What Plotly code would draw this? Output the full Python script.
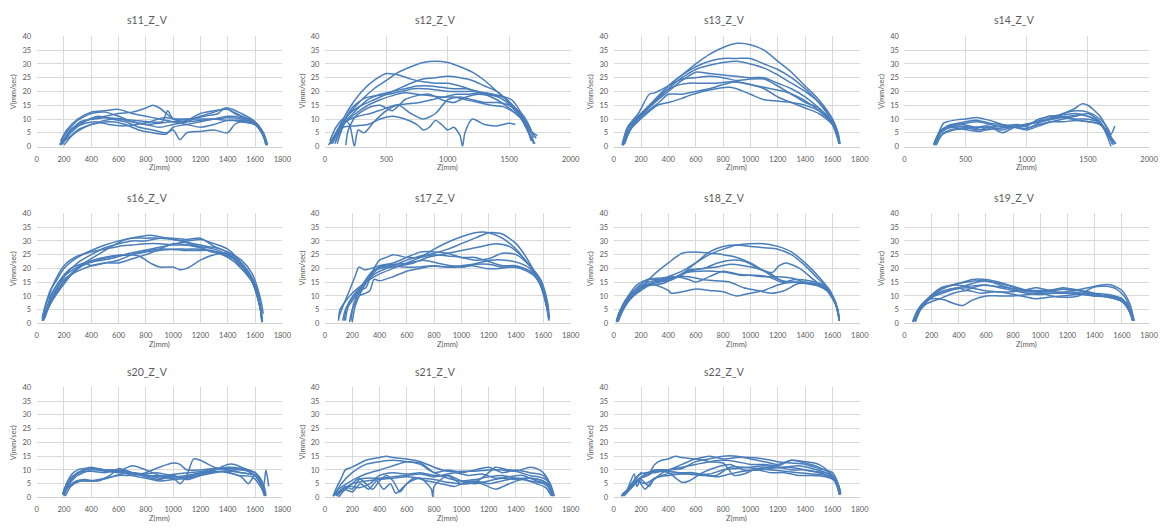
import plotly.graph_objects as go

# ---------------- data: each curve is a list of (Z mm, V mm/sec) ----------------
S11 = [
    [(170,0.5),(200,4),(250,7),(300,9.5),(400,12),(500,12.5),(600,11),(700,9),(800,8),(900,7),(1000,8),(1100,9),(1200,11),(1300,12.5),(1400,14),(1500,12),(1600,9),(1660,4),(1680,0.5)],
    [(180,1),(230,5),(300,8),(400,10),(500,11),(600,12),(700,12.5),(800,14),(850,15),(900,14),(950,12),(1000,10),(1100,9),(1200,9.5),(1300,10),(1400,10.5),(1500,10),(1600,8),(1650,5),(1680,1)],
    [(190,1),(250,5),(350,9),(450,11),(550,10),(650,9),(750,7),(850,6),(950,5),(1000,6),(1050,2.5),(1100,5),(1200,5.5),(1300,6),(1400,5),(1450,8),(1500,9),(1600,8),(1660,4),(1690,0.5)],
    [(175,2),(220,6),(300,10),(400,12.5),(500,13),(600,13.5),(700,12),(800,11),(900,10),(1000,9),(1100,9.5),(1200,12),(1300,13),(1400,13.5),(1500,11),(1600,9),(1650,6),(1680,1)],
    [(200,0.5),(260,4),(350,7),(450,8.5),(550,9),(650,8),(750,6),(850,5),(950,4.5),(1000,7),(1100,8),(1200,9),(1300,10),(1400,11),(1500,10.5),(1600,8),(1660,5),(1690,1)],
    [(180,0.5),(240,5),(320,9),(420,10),(520,10.5),(620,10),(720,9.5),(820,9),(920,9),(960,13),(1000,10),(1100,10),(1200,10),(1300,10),(1400,9.5),(1500,9.5),(1600,8.5),(1660,5),(1690,0.5)],
    [(185,1.5),(250,6),(330,8),(430,9),(530,8),(630,7.5),(730,8),(830,9),(930,10.5),(1030,10),(1130,10),(1230,11),(1330,12),(1380,14),(1450,12),(1550,10),(1630,7),(1680,2)],
    [(170,1),(230,3),(300,6),(400,8),(500,9.5),(600,10),(700,9),(800,8),(900,8.5),(1000,9),(1100,8),(1200,7),(1300,8),(1400,9.5),(1500,9),(1600,8),(1660,5),(1680,0.5)],
]
S12 = [
    [(60,2),(100,5),(200,12),(300,17),(400,21),(500,24),(600,27),(700,29),(800,30.5),(900,31),(1000,30.5),(1100,29),(1200,27),(1300,24),(1400,20),(1500,16),(1600,11),(1650,6),(1680,2)],
    [(40,1),(100,6),(200,14),(300,20),(400,24),(500,26.5),(600,26),(700,24.5),(800,23.5),(900,23),(1000,23),(1100,22),(1200,20.5),(1300,19),(1400,17),(1500,14),(1600,10),(1660,5),(1700,2)],
    [(50,1),(120,7),(200,12),(300,15),(400,17),(500,19),(600,21),(700,23),(800,24.5),(900,25),(1000,25.5),(1100,25),(1200,24),(1300,22),(1400,20),(1500,16),(1600,10),(1670,4),(1710,1)],
    [(80,1),(150,8),(250,13),(350,17),(450,19),(550,20),(650,21),(750,22),(850,22),(950,21.5),(1050,21),(1150,21),(1250,20),(1350,19),(1450,17),(1550,13),(1620,9),(1680,3)],
    [(90,2),(150,8),(250,12),(350,15),(450,17),(550,18.5),(650,19.5),(750,19),(850,18.5),(950,18),(1050,18),(1150,17),(1250,16),(1350,15),(1450,14.5),(1550,12),(1640,8),(1700,3)],
    [(170,0.5),(190,6),(250,11),(350,14),(450,15),(550,13),(650,17),(750,18.5),(850,19),(950,17),(1050,16),(1150,18),(1250,19),(1350,18.5),(1450,18),(1550,14),(1620,10),(1690,5),(1720,3)],
    [(30,0.5),(80,4),(150,7),(250,7.5),(350,8),(450,10),(550,11),(650,10),(750,8),(800,6),(850,7),(900,9.5),(950,8),(1000,6),(1050,7),(1100,4),(1120,0),(1140,5),(1200,10),(1300,8),(1400,7.5),(1500,8.5),(1550,8)],
    [(40,2),(90,7),(150,10),(200,8),(240,0),(270,6),(320,5),(400,9),(500,13),(600,15),(700,12),(800,10),(900,12),(1000,17),(1100,18),(1200,17),(1300,16),(1400,16),(1500,15),(1600,11),(1660,5),(1700,1)],
    [(60,1),(130,7),(220,14),(320,17.5),(420,18.5),(520,19),(620,20),(720,21),(820,21),(920,20.5),(1020,20),(1120,20),(1220,20),(1320,19),(1420,18.5),(1520,17),(1600,12),(1660,6),(1730,4)],
    [(100,1),(170,9),(270,11),(370,12),(470,13.5),(570,15),(670,15.5),(770,16),(870,17),(970,18),(1070,19),(1170,19),(1270,19.5),(1370,19),(1470,17.5),(1550,14),(1620,11),(1680,6)],
]
S13 = [
    [(70,0.5),(100,6),(200,12),(300,17),(400,22),(500,26),(600,30),(700,33.5),(800,36),(900,37.5),(1000,37),(1100,35),(1200,31),(1300,27),(1400,22),(1500,17),(1600,10),(1640,5),(1650,1)],
    [(65,0.5),(100,5),(200,11),(300,17),(400,22),(500,26),(600,29),(700,31),(800,32),(900,32),(1000,32),(1100,30),(1200,28),(1300,25),(1400,21),(1500,16),(1600,9),(1640,5),(1655,1)],
    [(75,1),(110,7),(200,12),(300,16),(400,21),(500,25),(600,28),(700,29.5),(800,30.5),(900,31),(1000,30),(1100,28.5),(1200,26),(1300,23),(1400,20),(1500,16),(1600,10),(1650,2)],
    [(70,0.5),(120,6),(200,11),(300,16),(400,20),(500,24),(600,27),(700,26.5),(800,26),(900,25.5),(1000,25),(1100,25),(1200,23),(1300,21),(1400,18),(1500,14),(1600,9),(1650,1)],
    [(60,0.5),(100,7),(180,12),(260,19),(300,19.5),(400,22),(500,24.5),(600,25),(700,25.5),(800,25),(900,24),(1000,24.5),(1100,24.5),(1200,22),(1300,19),(1400,16),(1500,14),(1600,8),(1650,1)],
    [(80,1),(130,7),(230,12),(330,16),(400,19),(500,19),(600,20),(700,21),(800,22.5),(900,23.5),(1000,22.5),(1100,21),(1200,18),(1300,16),(1400,14),(1500,12),(1600,8),(1650,2)],
    [(70,0.5),(120,6),(220,11),(320,15),(400,16),(500,17.5),(550,18.5),(650,20),(750,21),(850,21.5),(900,21),(1000,19),(1100,17),(1200,16.5),(1300,16),(1400,15),(1500,13),(1600,8),(1650,1)],
    [(75,1),(140,8),(250,14),(350,19),(450,22),(550,23),(650,23),(750,23),(850,23.5),(950,23),(1050,22),(1150,21),(1250,20),(1350,18),(1450,15),(1550,11),(1620,7),(1655,1)],
]
S14 = [
    [(240,0.5),(260,3),(300,6),(350,7),(400,8),(500,9),(600,9.5),(700,8.5),(800,8),(900,7.5),(1000,8),(1100,9),(1200,10.5),(1300,12),(1400,14),(1450,15.5),(1500,15),(1600,11),(1650,7),(1700,1)],
    [(245,1),(280,5),(320,8.5),(350,9),(400,9.5),(500,10),(600,10.5),(700,9.5),(800,8),(900,7),(1000,7.5),(1100,10),(1200,11),(1300,11.5),(1400,12),(1500,11),(1600,9),(1680,4),(1720,7.5)],
    [(250,0.5),(300,4),(400,6),(500,6.5),(600,7),(700,7),(800,7.5),(900,7),(1000,6),(1100,7.5),(1200,9),(1300,10),(1400,11),(1500,12),(1600,9),(1690,0)],
    [(240,1),(290,5),(360,7),(450,7.5),(550,7),(650,6),(750,6.5),(850,7),(950,7.5),(1050,8.5),(1150,9.5),(1250,10.5),(1350,11),(1450,11.5),(1550,10),(1650,6),(1720,1)],
    [(250,2),(300,6),(380,8),(480,8),(580,7),(680,7.5),(780,6),(880,7),(980,8),(1080,9),(1180,11),(1280,11),(1380,10),(1480,10),(1580,9),(1660,5),(1730,1)],
    [(245,0.5),(300,5),(400,7.5),(500,8.5),(600,9),(700,8),(800,7),(900,7),(1000,6.5),(1100,8),(1200,9),(1300,9),(1400,9.5),(1500,9),(1600,8),(1680,3),(1710,0.5)],
    [(255,1),(310,6),(400,7),(500,7),(600,6),(700,7),(800,5),(900,7),(1000,8),(1100,9),(1200,10),(1300,12),(1400,13),(1500,12.5),(1600,10),(1670,6),(1700,1)],
    [(260,0.5),(320,5),(420,6.5),(520,6),(620,5.5),(720,7),(820,7.5),(920,8),(1020,7),(1120,9),(1220,10),(1320,10.5),(1420,9.5),(1520,9),(1620,7.5),(1690,2)],
]
S16 = [
    [(40,2),(60,6),(100,12),(150,16),(200,20),(300,24),(400,26.5),(500,28.5),(600,30),(700,31),(800,31),(900,31),(1000,30.5),(1100,30),(1200,30.5),(1300,29),(1400,27),(1500,22),(1580,16),(1630,8),(1650,1)],
    [(45,1),(70,5),(120,10),(200,17),(300,22),(400,25),(500,27.5),(600,29),(700,30),(800,30),(900,31),(1000,31),(1100,30.5),(1200,31),(1300,28),(1400,26),(1500,23),(1580,18),(1640,9),(1660,3.5)],
    [(50,1),(80,5),(150,12),(250,18),(350,22),(450,25),(550,28),(650,30.5),(750,31.5),(850,32),(950,31),(1050,30),(1150,29),(1250,28),(1350,27),(1450,24),(1550,19),(1620,12),(1650,1)],
    [(55,2),(90,8),(160,15),(250,20),(350,22),(450,23.5),(550,24.5),(650,25),(750,24.5),(800,23),(850,21.5),(900,20.5),(1000,20.5),(1050,19.5),(1100,20),(1200,23),(1300,25),(1400,25.5),(1500,20),(1580,15),(1640,5),(1650,0.5)],
    [(50,1.5),(100,8),(150,13),(200,16),(300,19),(400,21),(500,22),(600,23),(700,25),(800,26),(900,26.5),(1000,27),(1100,27),(1200,27),(1300,26),(1400,24),(1500,20),(1580,15),(1640,5),(1650,0.5)],
    [(60,2),(90,6),(180,13),(280,19),(380,22),(480,23),(580,24),(680,25.5),(780,26.5),(880,27.5),(980,28.5),(1080,29.5),(1180,28),(1280,26),(1380,25),(1480,22),(1560,17),(1620,10),(1650,2)],
    [(45,3),(70,4),(100,10),(180,16),(280,20),(380,22),(480,23.5),(580,24.5),(680,25),(780,26),(880,27),(980,27),(1080,26.5),(1180,26.5),(1280,26.5),(1380,25),(1480,22),(1560,17),(1620,10),(1650,3)],
    [(40,1),(70,7),(120,14),(200,21),(300,24.5),(400,26),(500,27),(600,28),(700,28.5),(800,29),(900,29),(1000,28.5),(1100,28.5),(1200,28),(1300,27),(1400,25),(1500,21),(1580,16),(1640,6),(1655,0.5)],
    [(50,2),(80,6),(130,10),(200,15),(300,20),(350,22),(400,21),(500,22),(600,22),(700,23.5),(800,25),(900,27),(1000,29),(1100,28.5),(1200,27.5),(1300,26),(1400,25),(1500,21),(1580,16),(1640,5)],
]
S17 = [
    [(100,1),(110,5),(150,8),(200,11),(300,15),(400,18),(500,20),(600,22),(700,24),(800,27),(900,29.5),(1000,31.5),(1100,33),(1200,33),(1300,31),(1400,27),(1500,21),(1560,17),(1600,12),(1630,5),(1640,2)],
    [(130,1),(150,5),(200,9),(250,12),(300,16),(350,19),(400,20),(500,21),(600,23),(700,24.5),(800,25.5),(900,27),(1000,29),(1100,31),(1200,33),(1250,33),(1300,32.5),(1400,29),(1500,22),(1580,14),(1630,5),(1645,1.5)],
    [(100,2),(130,6),(180,12),(220,17),(250,20.5),(290,19.5),(340,20),(400,21),(500,22),(600,24),(700,26),(800,26),(900,25.5),(1000,24),(1100,24),(1200,22.5),(1300,21),(1400,21),(1500,19),(1580,15),(1630,7),(1640,2)],
    [(180,0.5),(200,5),(250,10),(300,11),(330,12),(360,16),(400,15.5),(500,17),(600,19),(700,20),(800,21),(900,20.5),(1000,21),(1100,21.5),(1200,21.5),(1300,20.5),(1400,20.5),(1500,19),(1580,14),(1630,6),(1640,1)],
    [(190,1),(210,7),(260,12),(300,13),(350,19),(400,23),(450,24),(500,25),(600,24),(700,24),(800,25),(900,24.5),(1000,24),(1100,23),(1200,23.5),(1300,25.5),(1400,25),(1500,21),(1580,16),(1630,8),(1645,2)],
    [(140,1),(160,6),(220,11),(280,14),(320,17),(380,20),(480,21),(580,20.5),(680,20.5),(780,21),(880,20.5),(980,20.5),(1080,21),(1180,20),(1280,20),(1380,20.5),(1480,19),(1560,16),(1620,9),(1640,2)],
    [(200,0.5),(220,6),(260,11),(320,16),(380,18.5),(450,20),(550,21),(650,22),(750,24),(850,25),(950,26),(1050,27),(1150,28),(1250,29),(1350,28),(1450,24),(1530,19),(1600,11),(1640,2)],
    [(150,1),(170,6),(230,10),(290,14),(350,18),(420,21),(520,21.5),(620,22),(720,23),(820,22),(920,21),(1020,20.5),(1120,22),(1220,23),(1320,23),(1420,22),(1500,20),(1570,15),(1620,8),(1640,2)],
]
S18 = [
    [(20,0.5),(40,4),(100,8),(200,12),(300,15),(400,17),(500,19),(600,22),(700,25),(800,27),(900,28.5),(1000,29),(1100,29),(1200,28),(1300,26),(1400,22),(1500,17),(1580,12),(1630,6),(1650,1)],
    [(25,1),(50,4),(100,7.5),(200,13),(300,18),(400,22),(500,25.5),(600,26),(700,25.5),(800,25),(900,24),(1000,22),(1100,19),(1200,16),(1300,15),(1400,15),(1500,14),(1580,11),(1630,6),(1650,1)],
    [(30,0.5),(60,4),(120,9),(200,13),(300,15),(400,16),(500,18),(600,22),(700,26),(800,28),(900,28.5),(1000,28),(1100,27.5),(1200,27),(1300,25),(1400,21),(1500,16),(1580,12),(1640,5),(1650,1)],
    [(20,1),(50,5),(100,9),(200,13),(300,14),(400,12),(420,11),(500,11.5),(600,12.5),(700,12),(800,11.5),(900,10),(1000,11),(1100,12),(1200,14),(1300,15),(1400,14.5),(1500,13.5),(1580,11),(1640,5)],
    [(30,1),(70,6),(150,12),(250,15),(350,16),(450,16.5),(550,19),(650,20),(750,20.5),(850,21.5),(950,21),(1050,20),(1150,18),(1250,15),(1350,15),(1450,14.5),(1550,13),(1620,8),(1650,1)],
    [(25,0.5),(70,7),(150,12),(250,16),(350,16),(450,17),(550,17),(650,16),(750,15.5),(850,15),(950,13),(1050,12),(1150,11),(1250,12),(1350,14.5),(1450,14.5),(1550,13),(1620,8),(1650,1.5)],
    [(35,1),(80,6),(160,11),(260,14),(360,14.5),(460,17),(560,19.5),(660,20),(760,22),(860,23),(960,22.5),(1060,20),(1160,18.5),(1210,21),(1260,22),(1360,20),(1460,16),(1560,12),(1630,6),(1650,1)],
    [(20,1),(60,5),(130,10),(230,14),(330,15),(430,16),(530,18.5),(630,19),(730,19),(830,18.5),(930,17.5),(1030,17.5),(1130,17),(1230,15),(1330,16),(1430,15.5),(1530,14),(1610,9),(1650,2)],
    [(30,2),(80,8),(170,14),(250,16),(350,16.5),(450,17),(550,16),(600,15),(700,17),(800,19),(900,18),(1000,17.5),(1100,17),(1200,17),(1300,16.5),(1400,15),(1500,14),(1600,10),(1650,2)],
]
S19 = [
    [(60,0.5),(80,3),(120,6),(200,10),(300,13),(400,14.5),(500,16),(600,16),(700,15),(800,13.5),(900,12),(1000,11.5),(1100,11.5),(1200,11),(1300,10.5),(1400,10),(1500,9.5),(1600,8),(1650,5),(1680,1)],
    [(70,1),(100,5),(150,8),(200,9),(250,9),(300,8.5),(350,7.5),(430,6.5),(500,8.5),(600,10),(700,10),(800,10),(900,10.5),(1000,11),(1100,11),(1200,11),(1300,11),(1400,10.5),(1500,9.5),(1600,8),(1660,4),(1680,1)],
    [(65,0.5),(90,4),(150,8),(250,12),(350,14),(450,15),(550,15.5),(650,15),(750,14),(850,12.5),(950,12),(1050,12),(1150,12.5),(1250,12),(1350,13),(1450,14),(1520,14),(1600,12),(1660,7),(1690,1)],
    [(75,1),(110,5),(180,9),(280,11),(380,12.5),(480,13),(580,12),(680,11.5),(780,11.5),(880,12),(980,11.5),(1080,10),(1180,9.5),(1280,10),(1380,13),(1480,13.5),(1560,12.5),(1630,9),(1680,2)],
    [(80,0.5),(120,5),(200,9.5),(300,12),(400,13),(500,14.5),(600,15.5),(700,14),(800,12.5),(900,11.5),(1000,11.5),(1100,12),(1200,12.5),(1300,12),(1400,11),(1500,10.5),(1600,9),(1660,5),(1690,1)],
    [(70,1),(100,4),(160,7),(260,9),(360,11),(460,12),(560,11),(660,11.5),(760,11),(860,10),(960,9),(1060,9.5),(1160,10),(1260,10.5),(1360,11),(1460,10),(1560,9.5),(1640,7),(1680,1)],
    [(65,1),(100,5),(170,9),(270,13),(370,14),(470,13.5),(570,14),(670,13.5),(770,13),(870,12),(970,13),(1070,12),(1170,13),(1270,12),(1370,11),(1470,10),(1570,9),(1640,6),(1680,1)],
    [(80,1),(120,6),(200,10),(300,12),(400,13),(450,12),(500,13),(600,14),(700,13),(800,12),(900,11),(1000,10.5),(1100,11),(1200,11.5),(1300,11),(1400,10),(1500,10),(1600,9),(1660,4),(1690,1)],
]
S20 = [
    [(190,1),(210,4),(250,8),(300,10),(350,10.5),(400,11),(500,10),(600,9.5),(700,11.5),(800,10),(900,8),(1000,7.5),(1100,8),(1200,9),(1300,10),(1400,12),(1450,12),(1500,11),(1600,9),(1650,6),(1670,1)],
    [(200,0.5),(220,3),(270,5),(320,6),(400,6),(500,7),(600,8),(700,8),(800,9),(900,11),(1000,12.5),(1050,12),(1100,10),(1200,10),(1300,10.5),(1400,10),(1500,9),(1600,8),(1660,4),(1680,10),(1700,4)],
    [(195,2),(230,6),(300,9),(400,9.5),(500,9),(600,10),(700,9),(800,8),(900,7),(1000,7),(1050,5),(1100,8),(1150,14),(1200,13.5),(1300,11),(1400,10),(1500,10),(1600,9),(1650,5),(1670,0.5)],
    [(200,1),(240,5),(300,8),(400,10),(500,9.5),(600,9),(700,8.5),(800,8),(900,7.5),(1000,7),(1100,7.5),(1200,8.5),(1300,10),(1400,11),(1500,10.5),(1600,9),(1660,5),(1680,1)],
    [(190,1.5),(230,4),(290,6),(350,6.5),(450,6),(550,8.5),(600,10.5),(700,9),(800,7.5),(900,6.5),(1000,8),(1100,6.5),(1200,8),(1300,9.5),(1400,9),(1500,7.5),(1550,5),(1600,8),(1650,4),(1670,1)],
    [(200,1),(240,5),(300,9),(400,10.5),(500,10),(600,9.5),(700,8),(800,7),(900,6),(1000,6.5),(1100,7),(1200,8),(1300,9),(1400,9.5),(1500,9),(1600,8),(1650,5),(1680,0.5)],
    [(210,0.5),(250,4),(320,6),(420,6),(520,7),(620,8.5),(720,9),(820,8),(920,8),(1020,8.5),(1120,9),(1220,9.5),(1320,10.5),(1420,10.5),(1520,10),(1600,8),(1660,3)],
    [(195,1),(230,5),(280,8),(380,10.5),(480,10),(580,10),(680,9),(780,8.5),(880,9),(980,8),(1080,7),(1180,8.5),(1280,9),(1380,9.5),(1480,8),(1580,7.5),(1650,3),(1670,0.5)],
]
S21 = [
    [(60,0.5),(80,3),(120,7),(150,10),(200,11),(300,13.5),(400,14.5),(450,15),(500,14.5),(600,14),(700,13),(800,11),(900,9.5),(1000,9.5),(1100,9.5),(1200,10),(1300,10),(1400,9.5),(1500,11),(1550,10.5),(1600,9),(1650,5),(1670,0.5)],
    [(70,1),(120,5),(200,9),(300,12),(400,13),(500,13.5),(600,13),(700,12.5),(800,9),(900,7),(1000,6),(1100,6.5),(1200,7.5),(1300,8),(1400,7),(1500,7),(1600,6),(1660,3),(1680,0.5)],
    [(80,0.5),(110,2),(150,3),(200,5),(250,7),(300,5),(350,3),(400,6),(450,8),(500,6),(550,2),(600,5),(700,7),(780,3),(790,0),(800,4),(900,8),(1000,6),(1100,5),(1200,6),(1300,7),(1400,6.5),(1500,7),(1600,6),(1650,4),(1670,1)],
    [(60,0.5),(100,2),(150,4),(200,3),(250,6.5),(300,7),(400,7),(500,7.5),(600,8),(700,8.5),(800,7.5),(900,8),(1000,5),(1100,5.5),(1200,9),(1250,11),(1300,10.5),(1400,9.5),(1500,8),(1600,7),(1650,5),(1680,0.5)],
    [(90,0.5),(140,3),(200,2),(260,5),(320,3),(380,6),(430,3),(480,5),(520,1.5),(580,4),(650,7),(750,6),(850,5),(950,4),(1050,6),(1150,5),(1250,3),(1350,5),(1450,6.5),(1550,5),(1620,3.5),(1660,0.5)],
    [(70,1),(130,3),(200,5),(300,6),(400,6.5),(500,7),(600,7.5),(700,7),(800,6.5),(900,5.5),(1000,5),(1100,6),(1200,5),(1300,6),(1400,7),(1500,6),(1600,5),(1650,3),(1670,0.5)],
    [(100,0),(130,2),(180,4),(250,3.5),(330,5),(400,8),(500,9),(600,8.5),(700,9),(800,8),(850,8),(950,9),(1050,8),(1150,8.5),(1250,7),(1350,7.5),(1450,8),(1550,6),(1620,5),(1660,1)],
    [(60,0.5),(100,3),(160,5),(230,7),(300,8.5),(400,10),(500,11.5),(600,13),(700,12),(800,9),(900,10),(1000,9),(1100,10),(1200,11),(1300,9),(1400,10),(1500,9),(1600,8),(1650,4),(1670,0.5)],
]
S22 = [
    [(60,0.5),(80,2),(120,3),(160,5),(200,7),(250,8),(300,12),(350,13.5),(400,14),(450,15),(500,14.5),(600,14),(700,15),(800,14),(900,14.5),(1000,14.5),(1100,14),(1200,13),(1300,12.5),(1400,12),(1500,10.5),(1600,9),(1640,5),(1655,1)],
    [(70,1),(100,3),(150,8.5),(170,4),(200,7),(250,9),(300,10),(400,10),(500,10.5),(600,13),(700,14),(800,15),(900,15),(1000,14),(1100,13),(1200,12),(1300,13.5),(1400,12.5),(1500,11),(1600,8),(1650,3)],
    [(55,0.5),(90,2),(130,4),(180,6),(230,3),(280,6),(350,8),(450,9),(550,8.5),(650,8),(750,8),(850,11),(950,11),(1050,10.5),(1150,10),(1250,9.5),(1350,9),(1450,8.5),(1550,8),(1620,6),(1650,1)],
    [(60,1),(100,2.5),(140,5),(200,9),(250,8),(300,9.5),(400,9),(500,5.5),(550,6),(650,9),(750,11),(850,12),(950,10),(1050,10),(1150,10.5),(1250,11),(1350,10.5),(1450,9.5),(1550,9),(1620,7),(1660,2)],
    [(65,1),(110,3),(160,6),(220,8),(300,9.5),(400,10),(500,12),(600,14),(700,13),(800,12.5),(880,8),(950,8.5),(1050,10.5),(1150,11),(1250,11),(1350,11.5),(1450,10.5),(1550,9),(1630,6),(1660,1.5)],
    [(70,0.5),(100,2),(150,5),(200,6.5),(260,4),(300,7),(400,8),(500,8.5),(600,8.5),(700,8.5),(800,10),(900,10.5),(1000,11),(1100,11.5),(1200,11),(1300,10),(1400,10),(1500,9),(1600,7),(1650,2)],
    [(60,1),(90,2),(130,5),(180,8),(230,9),(300,9),(400,10),(500,11),(600,12),(700,13),(800,13.5),(900,13),(1000,12),(1100,12),(1200,11.5),(1300,13.5),(1400,13),(1500,12),(1580,9),(1640,5),(1660,1)],
    [(75,0.5),(120,3),(170,6),(230,5),(300,7),(380,9.5),(480,9),(580,9),(680,8),(760,7.5),(850,8.5),(950,9.5),(1050,10),(1150,9),(1250,9),(1350,8),(1450,8),(1550,7.5),(1620,6),(1650,1)],
]

PANEL_TITLES = ["s11_Z_V", "s12_Z_V", "s13_Z_V", "s14_Z_V",
                "s16_Z_V", "s17_Z_V", "s18_Z_V", "s19_Z_V",
                "s20_Z_V", "s21_Z_V", "s22_Z_V"]
PANEL_DATA = [S11, S12, S13, S14, S16, S17, S18, S19, S20, S21, S22]
X_MAX = [1800, 2000, 1800, 2000, 1800, 1800, 1800, 1800, 1800, 1800, 1800]
X_DTICK = [200, 500, 200, 500, 200, 200, 200, 200, 200, 200, 200]
Y_TICKS = [0, 5, 10, 15, 20, 25, 30, 35, 40]
X_TITLE = "Z(mm)"
Y_TITLE = "V(mm/sec)"

# ---------------- layout geometry (pixels) ----------------
W, H = 1165, 528
COLS = [(35, 283), (326, 574), (617.5, 866), (911, 1158)]
ROWS = [(33, 145), (213, 325), (390, 502)]
TITLE_Y = [16, 197, 374]

LINE_COLOR = "#4a7ebb"
GRID = "#d9d9d9"
TXT = "#595959"
FONT = "Lato, Open Sans, sans-serif"

fig = go.Figure()
annotations = []
for i, (title, data) in enumerate(zip(PANEL_TITLES, PANEL_DATA)):
    r, c = divmod(i, 4)
    n = i + 1
    xa = "x" if n == 1 else f"x{n}"
    ya = "y" if n == 1 else f"y{n}"
    for curve in data:
        fig.add_trace(go.Scatter(
            x=[p[0] for p in curve], y=[p[1] for p in curve],
            mode="lines", line=dict(color=LINE_COLOR, width=1.5, shape="spline", smoothing=0.7),
            xaxis=xa, yaxis=ya, showlegend=False, hoverinfo="skip"))
    x0, x1 = COLS[c]
    y0, y1 = ROWS[r]
    xdom = [x0 / W, x1 / W]
    ydom = [1 - y1 / H, 1 - y0 / H]
    fig.layout[("xaxis" if n == 1 else f"xaxis{n}")] = dict(
        domain=xdom, anchor=ya, range=[0, X_MAX[i]], dtick=X_DTICK[i], tick0=0,
        showgrid=True, gridcolor=GRID, gridwidth=1, zeroline=False,
        showline=True, linecolor="#d0d0d0", linewidth=1,
        ticks="outside", ticklen=5, tickcolor="rgba(0,0,0,0)",
        tickfont=dict(size=7.5, color=TXT, family=FONT), fixedrange=True)
    fig.layout[("yaxis" if n == 1 else f"yaxis{n}")] = dict(
        domain=ydom, anchor=xa, range=[0, 40], tickvals=Y_TICKS,
        showgrid=True, gridcolor=GRID, gridwidth=1, zeroline=False,
        showline=False, ticks="outside", ticklen=3, tickcolor="rgba(0,0,0,0)",
        tickfont=dict(size=7.5, color=TXT, family=FONT), fixedrange=True)
    cx = (x0 + x1) / 2
    annotations.append(dict(text=title, x=(cx - 12) / W, y=1 - TITLE_Y[r] / H,
                            xref="paper", yref="paper", showarrow=False,
                            font=dict(size=10.5, color=TXT, family=FONT),
                            xanchor="center", yanchor="middle"))
    annotations.append(dict(text=X_TITLE, x=cx / W, y=1 - (y1 + 21) / H,
                            xref="paper", yref="paper", showarrow=False,
                            font=dict(size=7.5, color=TXT, family=FONT),
                            xanchor="center", yanchor="middle"))
    annotations.append(dict(text=Y_TITLE, x=(x0 - 23) / W, y=1 - ((y0 + y1) / 2) / H,
                            xref="paper", yref="paper", showarrow=False, textangle=-90,
                            font=dict(size=7.5, color=TXT, family=FONT),
                            xanchor="center", yanchor="middle"))

fig.update_layout(width=W, height=H, margin=dict(l=0, r=0, t=0, b=0),
                  paper_bgcolor="white", plot_bgcolor="white",
                  annotations=annotations, showlegend=False)
fig.write_html("out.html", config={"displayModeBar": False},
               post_script="document.body.style.margin='0px';document.body.style.padding='0px';"
                           "document.body.style.overflow='hidden';"
                           "document.documentElement.style.overflow='hidden';")
